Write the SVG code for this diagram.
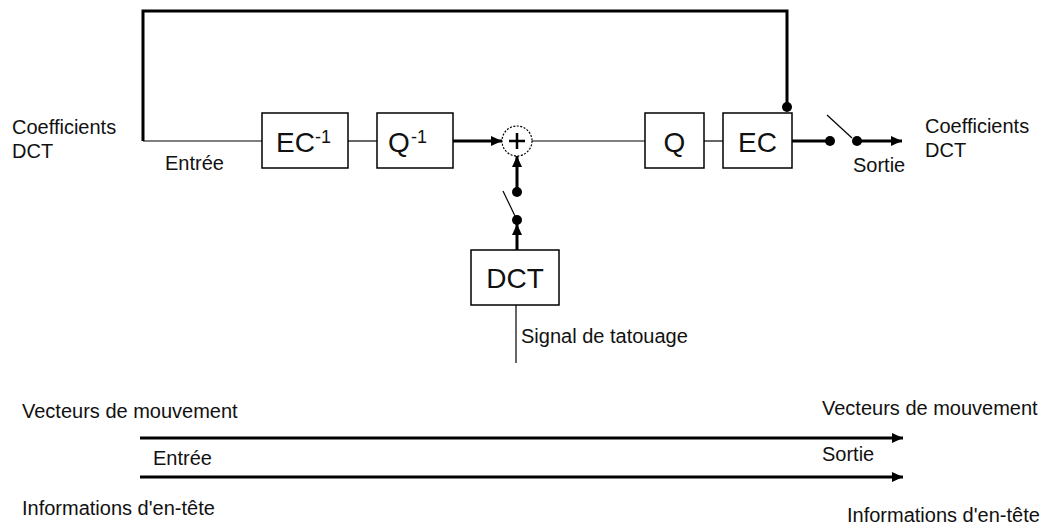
<svg xmlns="http://www.w3.org/2000/svg" width="1050" height="529" viewBox="0 0 1050 529">
<style>
text{font-family:"Liberation Sans",Arial,sans-serif;fill:#111}
.lbl{font-size:20px}
.big{font-size:28px}
.sup{font-size:18px}
.box{fill:#fff;stroke:#000;stroke-width:1.5}
.thin{stroke:#000;stroke-width:1.2;fill:none}
.thick{stroke:#000;stroke-width:3;fill:none}
.dot{fill:#000}
</style>
<defs>
<marker id="ah" markerUnits="userSpaceOnUse" markerWidth="12" markerHeight="12" viewBox="0 0 12 12" refX="11" refY="6" orient="auto">
<path d="M0,1 L11,6 L0,11 Z" fill="#000"/>
</marker>
</defs>
<rect width="1050" height="529" fill="#fff"/>
<g id="connectors">
<polyline class="thick" points="787,107 787,11 143,11 143,141"/>
<line class="thin" x1="143" y1="141" x2="262" y2="141"/>
<line class="thin" x1="348" y1="141" x2="377" y2="141"/>
<line class="thick" x1="453" y1="141" x2="502" y2="141" marker-end="url(#ah)"/>
<line class="thin" x1="532" y1="141" x2="645" y2="141"/>
<line class="thin" x1="704" y1="141" x2="723" y2="141"/>
<line class="thick" x1="792" y1="141" x2="830" y2="141"/>
<line class="thin" x1="827" y1="115" x2="852" y2="138"/>
<line class="thick" x1="857" y1="141" x2="902" y2="141" marker-end="url(#ah)"/>
<line class="thick" x1="517" y1="192" x2="517" y2="156" marker-end="url(#ah)"/>
<line class="thin" x1="503" y1="191" x2="515" y2="216"/>
<line class="thick" x1="517" y1="250" x2="517" y2="224" marker-end="url(#ah)"/>
<line class="thin" x1="516" y1="305" x2="516" y2="363"/>
<line class="thick" x1="140" y1="438" x2="903" y2="438" marker-end="url(#ah)"/>
<line class="thick" x1="140" y1="477" x2="903" y2="477" marker-end="url(#ah)"/>
<circle class="dot" cx="787" cy="107" r="5"/>
<circle class="dot" cx="830" cy="141" r="5"/>
<circle class="dot" cx="857" cy="141" r="5"/>
<circle class="dot" cx="517" cy="192" r="5"/>
<circle class="dot" cx="517" cy="220" r="5"/>
</g>
<g id="ec_inv">
<rect class="box" x="262" y="113" width="86" height="55"/>
<text x="276" y="152" class="big">EC</text>
<text x="315" y="143" class="sup">-1</text>
</g>
<g id="q_inv">
<rect class="box" x="377" y="113" width="76" height="55"/>
<text x="388" y="152" class="big">Q</text>
<text x="411" y="143" class="sup">-1</text>
</g>
<g id="sum">
<circle cx="517" cy="141" r="15" fill="#fff" stroke="#000" stroke-width="1.2" stroke-dasharray="2,1.5"/>
<line class="thick" x1="509" y1="141" x2="525" y2="141" style="stroke-width:2.5"/>
<line class="thick" x1="517" y1="133" x2="517" y2="149" style="stroke-width:2.5"/>
</g>
<g id="q">
<rect class="box" x="645" y="113" width="59" height="55"/>
<text x="674.5" y="152" class="big" text-anchor="middle">Q</text>
</g>
<g id="ec">
<rect class="box" x="723" y="113" width="69" height="55"/>
<text x="757.5" y="152" class="big" text-anchor="middle">EC</text>
</g>
<g id="dct">
<rect class="box" x="471" y="250" width="88" height="55"/>
<text x="515" y="288" class="big" text-anchor="middle">DCT</text>
</g>
<g id="labels">
<text x="12" y="134" class="lbl">Coefficients</text>
<text x="12" y="158" class="lbl">DCT</text>
<text x="165" y="170" class="lbl">Entrée</text>
<text x="925" y="133" class="lbl">Coefficients</text>
<text x="925" y="157" class="lbl">DCT</text>
<text x="853" y="172" class="lbl">Sortie</text>
<text x="521" y="343" class="lbl">Signal de tatouage</text>
<text x="22" y="418" class="lbl">Vecteurs de mouvement</text>
<text x="822" y="415" class="lbl">Vecteurs de mouvement</text>
<text x="153" y="465" class="lbl">Entrée</text>
<text x="822" y="461" class="lbl">Sortie</text>
<text x="22" y="515" class="lbl">Informations d'en-tête</text>
<text x="847" y="522" class="lbl">Informations d'en-tête</text>
</g>
</svg>
